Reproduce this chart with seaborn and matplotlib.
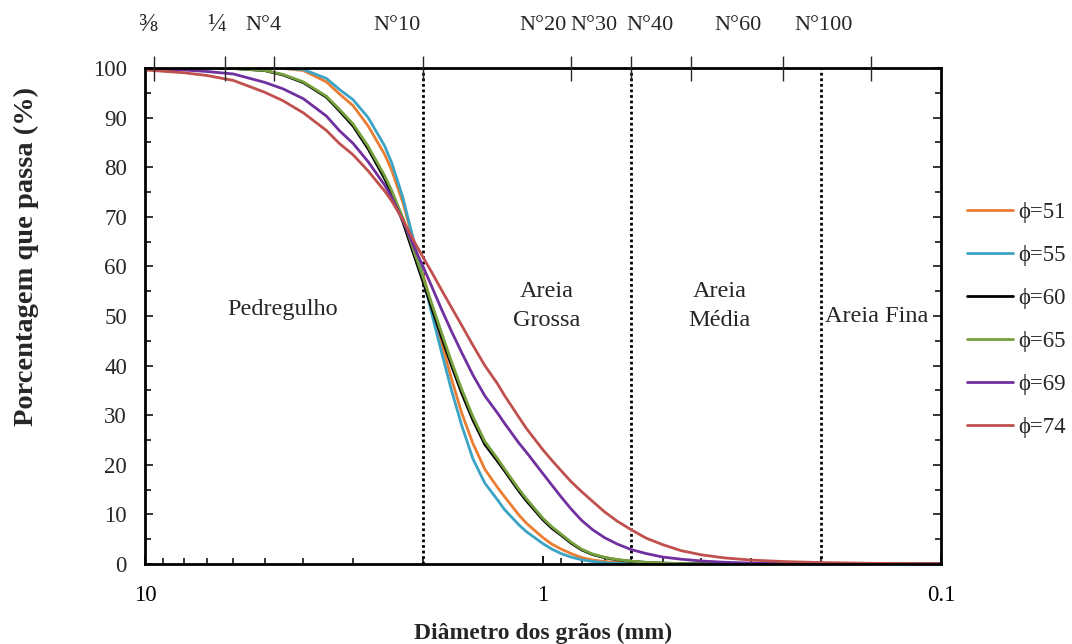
import numpy as np
import pandas as pd
import matplotlib
matplotlib.use("Agg")
import matplotlib.pyplot as plt
import seaborn as sns
from matplotlib.ticker import FixedLocator, MultipleLocator, LogLocator, NullFormatter, NullLocator
from matplotlib.lines import Line2D

# ---------------- data ----------------
diam = [10, 8, 7, 6, 5, 4.5, 4, 3.5, 3.25, 3, 2.75, 2.5, 2.4, 2.25, 2.1, 2.0, 1.9, 1.8, 1.7,
        1.6, 1.5, 1.4, 1.3, 1.25, 1.15, 1.1, 1.0, 0.95, 0.9, 0.85, 0.8, 0.75, 0.7, 0.65,
        0.6, 0.55, 0.5, 0.45, 0.4, 0.35, 0.3, 0.25, 0.2, 0.15, 0.1]

phi51 = [100, 100, 100, 100, 100, 99.9, 99.5, 97.2, 94.8, 92.4, 88.3, 82.6, 79.4, 72.9, 64.2,
         58.3, 51.7, 44.7, 37.5, 30.4, 24.3, 19.1, 15.4, 13.6, 9.9, 8.2, 5.3, 4.0, 3.0, 2.1,
         1.3, 0.8, 0.5, 0.32, 0.2, 0.12, 0.07, 0.04, 0.02, 0, 0, 0, 0, 0, 0]
phi55 = [100, 100, 100, 100, 100, 99.95, 99.7, 97.9, 95.7, 93.6, 90.0, 84.3, 80.9, 73.9, 64.3,
         57.6, 50.2, 42.8, 35.2, 27.9, 21.2, 16.3, 12.9, 11.0, 7.9, 6.5, 4.1, 3.0, 2.1, 1.4,
         0.85, 0.5, 0.25, 0.12, 0.05, 0.02, 0, 0, 0, 0, 0, 0, 0, 0, 0]
phi60 = [100, 100, 100, 99.9, 99.47, 98.6, 97.05, 94.1, 91.4, 88.3, 83.7, 77.7, 74.6, 69.0, 61.8,
         56.8, 51.4, 45.8, 40.1, 34.4, 29.0, 24.1, 20.7, 18.8, 14.7, 12.7, 8.9, 7.2, 5.8, 4.2,
         2.85, 1.9, 1.27, 0.84, 0.53, 0.31, 0.17, 0.09, 0.05, 0.02, 0, 0, 0, 0, 0]
phi65 = [100, 100, 100, 99.9, 99.5, 98.7, 97.2, 94.3, 91.7, 88.7, 84.2, 78.3, 75.3, 69.8, 62.6,
         57.7, 52.3, 46.7, 40.9, 35.2, 29.7, 24.7, 21.2, 19.2, 15.1, 13.1, 9.2, 7.5, 6.0, 4.4,
         3.0, 2.0, 1.35, 0.9, 0.57, 0.33, 0.18, 0.1, 0.05, 0.02, 0, 0, 0, 0, 0]
phi69 = [99.8, 99.6, 99.3, 98.8, 97.1, 95.8, 93.8, 90.3, 87.4, 84.8, 81.1, 76.4, 73.9, 69.3, 63.6,
         59.9, 55.8, 51.4, 47.0, 42.6, 38.1, 33.9, 30.4, 28.4, 24.4, 22.5, 18.2, 15.9, 13.5, 11.1,
         8.8, 6.9, 5.3, 4.0, 2.9, 2.1, 1.4, 0.97, 0.61, 0.35, 0.18, 0.08, 0.03, 0.01, 0]
phi74 = [99.6, 99.05, 98.5, 97.5, 95.1, 93.4, 90.95, 87.4, 84.8, 82.5, 79.25, 75.2, 73.2, 69.4, 64.8,
         61.8, 58.7, 55.3, 51.8, 48.1, 44.1, 40.0, 36.3, 34.0, 29.6, 27.3, 23.0, 20.9, 18.8, 16.6,
         14.6, 12.6, 10.5, 8.6, 6.9, 5.2, 3.9, 2.7, 1.85, 1.23, 0.79, 0.5, 0.29, 0.14, 0.05]

series_names = ["ϕ=51", "ϕ=55", "ϕ=60", "ϕ=65", "ϕ=69", "ϕ=74"]
series_vals = [phi51, phi55, phi60, phi65, phi69, phi74]
colors = ["#EA7D32", "#3BA3C4", "#000000", "#76A03C", "#7030A0", "#C0504D"]

sieve_mm = [9.5, 6.3, 4.75, 2.0, 0.85, 0.6, 0.425, 0.25, 0.15]
sieve_labels = ["⅜", "¼", "N°4", "N°10", "N°20", "N°30", "N°40", "N°60", "N°100"]

boundaries = [2.0, 0.6, 0.2]
regions = ["Pedregulho", "Areia\nGrossa", "Areia\nMédia", "Areia Fina"]

x_ticks = [10, 1, 0.1]
x_ticklabels = ["10", "1", "0.1"]

# ---------------- figure ----------------
sns.set_style("ticks")
plt.rcParams["font.family"] = ["Liberation Serif", "DejaVu Serif"]

W, H = 1072, 644
fig = plt.figure(figsize=(W / 100, H / 100), dpi=100)
ax = fig.add_axes([145 / W, 1 - 564 / H, 796 / W, 496 / H])

df = pd.concat([
    pd.DataFrame({"diam": diam, "pct": v, "serie": n})
    for n, v in zip(series_names, series_vals)
], ignore_index=True)

sns.lineplot(data=df, x="diam", y="pct", hue="serie", hue_order=series_names,
             palette=colors, estimator=None, linewidth=2.0, ax=ax, legend=False)

ax.set_xscale("log")
ax.set_xlim(10, 0.1)
ax.set_ylim(0, 100)

# boundaries
for b in boundaries:
    ax.axvline(b, color="black", linestyle=(0, (1, 1)), linewidth=2.0, zorder=1)

# region labels (data coords)
region_pos = [(4.5, 51.3), (0.98, 52), (0.36, 52), (0.145, 49.8)]
for (rx, ry), t in zip(region_pos, regions):
    ax.text(rx, ry, t, ha="center", va="center", fontsize=17.5, linespacing=1.5)

# ticks
ax.xaxis.set_major_locator(FixedLocator(x_ticks))
ax.set_xticklabels(x_ticklabels)
ax.xaxis.set_minor_locator(LogLocator(base=10, subs=np.arange(2, 10)))
ax.xaxis.set_minor_formatter(NullFormatter())
ax.yaxis.set_major_locator(MultipleLocator(10))
ax.yaxis.set_minor_locator(MultipleLocator(5))
ax.tick_params(axis="x", which="major", direction="in", length=6, width=1.3,
               top=False, bottom=True, labelsize=16.5, pad=15, colors="black")
ax.tick_params(axis="x", which="minor", direction="in", length=4, width=1.3,
               top=True, bottom=True)
ax.tick_params(axis="y", which="both", direction="in", left=True, right=True,
               width=1.3, labelsize=16.5, pad=13)
ax.tick_params(axis="y", which="major", length=6)
ax.tick_params(axis="y", which="minor", length=4)

for s in ax.spines.values():
    s.set_visible(True)
    s.set_color("black")
    s.set_linewidth(2.0)

ax.set_xlabel("Diâmetro dos grãos (mm)", fontsize=17, fontweight="bold", labelpad=12)
ax.set_ylabel("Porcentagem que passa (%)", fontsize=20.5, fontweight="bold")
ax.yaxis.set_label_coords(-0.133, 0.62)

# top sieve axis
ax2 = ax.twiny()
ax2.set_xscale("log")
ax2.set_xlim(10, 0.1)
ax2.xaxis.set_major_locator(FixedLocator(sieve_mm))
ax2.xaxis.set_minor_locator(NullLocator())
ax2.set_xticklabels([""] * len(sieve_mm))
ax2.tick_params(axis="x", which="major", direction="inout", length=18, width=1.0, top=True)
for s in ax2.spines.values():
    s.set_visible(False)

label_px = [148, 217, 263, 397, 543, 594, 650, 738, 824]
label_size = [18, 18, 16, 16, 16, 16, 16, 16, 16]
for px, t, fs in zip(label_px, sieve_labels, label_size):
    ax.text((px - 145) / 796, 1 + 43 / 496, t, transform=ax.transAxes,
            ha="center", va="center", fontsize=fs)

# legend
handles = [Line2D([], [], color=c, linewidth=2.0) for c in colors]
fig.legend(handles, series_names, loc="upper left", bbox_to_anchor=(967 / W, 1 - 202 / H),
           frameon=False, fontsize=16.4, handlelength=2.0, labelspacing=0.97,
           handletextpad=0.25, borderaxespad=0, borderpad=0)

fig.savefig("out.png", dpi=100)
